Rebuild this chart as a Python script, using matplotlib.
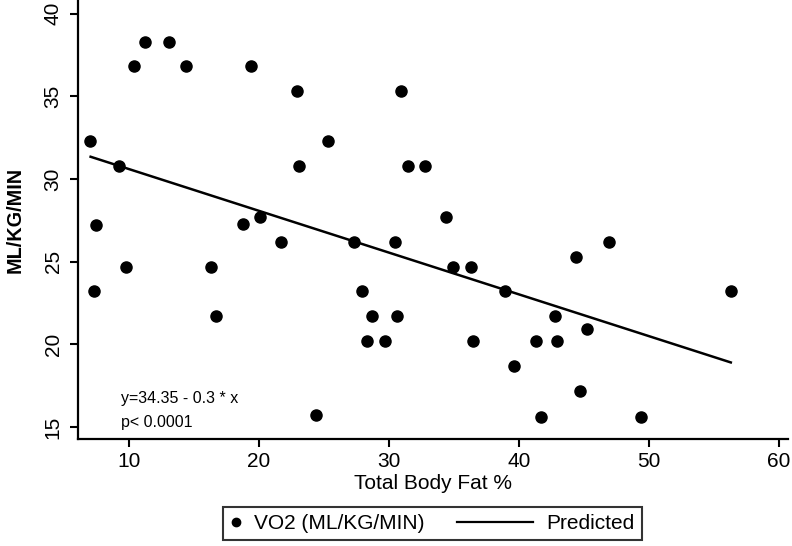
import numpy as np
import matplotlib
matplotlib.use("Agg")
import matplotlib.pyplot as plt
from matplotlib.legend_handler import HandlerBase
from matplotlib.lines import Line2D

plt.rcParams['font.family'] = ['Liberation Sans', 'DejaVu Sans']

# Total body fat % and VO2 (ml/kg/min)
body_fat = [7.0, 7.5, 7.3, 9.2, 9.8, 10.4, 11.2, 13.1, 14.4, 16.3,
            16.7, 18.8, 19.4, 20.1, 21.7, 22.9, 23.1, 24.4, 25.3, 27.3,
            27.9, 28.3, 28.7, 29.7, 30.5, 30.6, 30.9, 31.5, 32.8, 34.4,
            34.9, 36.3, 36.5, 38.9, 39.6, 41.3, 41.7, 42.8, 42.95, 44.7,
            44.4, 45.2, 46.9, 49.4, 56.3]
vo2 = [32.3, 27.2, 23.2, 30.8, 24.7, 36.8, 38.3, 38.3, 36.8, 24.7,
       21.7, 27.3, 36.8, 27.7, 26.2, 35.3, 30.8, 15.75, 32.3, 26.2,
       23.2, 20.2, 21.7, 20.2, 26.2, 21.7, 35.3, 30.8, 30.8, 27.7,
       24.7, 24.7, 20.2, 23.2, 18.7, 20.2, 15.6, 21.7, 20.2, 17.2,
       25.25, 20.95, 26.2, 15.6, 23.2]

# predicted line end points as drawn
pred_x = [7.05, 56.3]
pred_y = [31.34, 18.9]


class LongLineHandler(HandlerBase):
    # legend line that reaches back into the column gap
    def create_artists(self, legend, orig_handle, xdescent, ydescent,
                       width, height, fontsize, trans):
        y = height / 2 - ydescent
        x1 = width - xdescent - 1.2
        line = Line2D([x1 - 55, x1], [y, y], color='black', linewidth=1.6,
                      transform=trans)
        return [line]


fig = plt.figure(figsize=(7.92, 5.46), dpi=100)
ax = fig.add_axes([78 / 792, 1 - 439 / 546, 710 / 792, 439 / 546])

pts, = ax.plot(body_fat, vo2, 'o', color='black', markersize=8,
               label='VO2 (ML/KG/MIN)')
fit, = ax.plot(pred_x, pred_y, '-', color='black', linewidth=1.8,
               label='Predicted')

ax.set_xlim(6.08, 60.7)
ax.set_ylim(14.27, 40.82)
ax.set_xticks([10, 20, 30, 40, 50, 60])
ax.set_yticks([15, 20, 25, 30, 35, 40])
ax.tick_params(axis='both', labelsize=15, width=1.5, length=6, direction='out')
ax.tick_params(axis='y', pad=5)
for lbl in ax.get_yticklabels():
    lbl.set_rotation(90)
    lbl.set_va('center')

for side in ['top', 'right']:
    ax.spines[side].set_visible(False)
for side in ['left', 'bottom']:
    ax.spines[side].set_linewidth(1.6)

ax.set_xlabel('Total Body Fat %', fontsize=15, labelpad=2)
ax.set_ylabel('ML/KG/MIN', fontsize=14.3, fontweight='bold', va='center')
ax.yaxis.set_label_coords(-0.0887, 0.5)

ax.text(0.0606, 0.082, 'y=34.35 - 0.3 * x', transform=ax.transAxes, fontsize=11.5)
ax.text(0.0606, 0.027, 'p< 0.0001', transform=ax.transAxes, fontsize=11.5)

leg = fig.legend([pts, fit], ['VO2 (ML/KG/MIN)', 'Predicted'],
                 loc='upper left', bbox_to_anchor=(222.7 / 792, 1 - 506.7 / 546),
                 ncol=2, fontsize=15, frameon=True, fancybox=False,
                 edgecolor='black', handlelength=0.58, handletextpad=0.58,
                 columnspacing=4.7, borderpad=0.35, borderaxespad=0,
                 handler_map={fit: LongLineHandler()})
leg.get_frame().set_linewidth(1.5)
leg.legend_handles[0].set_markersize(6)

fig.savefig('out.png', dpi=100)
